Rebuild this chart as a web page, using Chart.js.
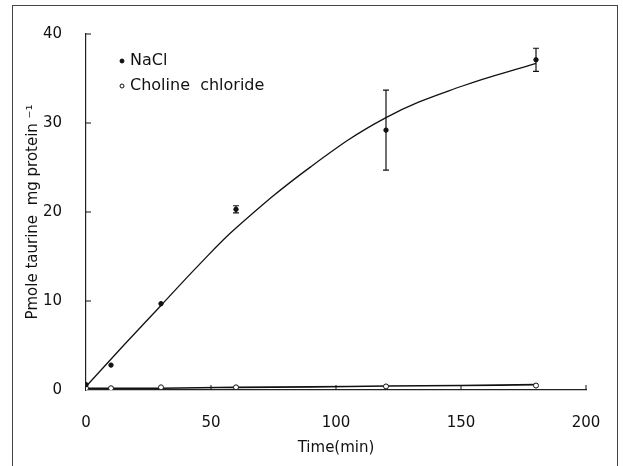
<!DOCTYPE html>
<html>
<head>
<meta charset="utf-8">
<script src="https://cdn.jsdelivr.net/npm/chart.js@4.4.0/dist/chart.umd.min.js"></script>
<style>
  body { margin: 0; background: #fff; }
  #wrap { position: relative; width: 623px; height: 466px; }
  #frame { position: absolute; left: 12px; top: 5px; width: 604px; height: 470px;
           border: 1px solid #444; border-bottom: none; pointer-events: none; }
</style>
</head>
<body>
<div id="wrap">
  <canvas id="chart" width="623" height="466"></canvas>
  <div id="frame"></div>
</div>
<script>
// measured uptake
var times = [0, 10, 30, 60, 120, 180];
var nacl = [0.6, 2.8, 9.7, 20.3, 29.2, 37.1];
var naclErr = [0, 0, 0, 0.4, 4.5, 1.3];
var choline = [0.2, 0.2, 0.3, 0.3, 0.4, 0.5];

// trend lines
var trendTimes = [0, 15, 30, 45, 60, 90, 120, 150, 180];
var naclTrend = [0.4, 5.0, 9.5, 14.0, 18.2, 25.1, 30.6, 34.1, 36.7];
var cholineTrend = [0.2, 0.2, 0.2, 0.25, 0.3, 0.35, 0.45, 0.5, 0.6];

var xTicks = [0, 50, 100, 150, 200];
var yTicks = [0, 10, 20, 30, 40];

function pts(xs, ys) {
    return xs.map(function (x, i) { return { x: x, y: ys[i] }; });
}

var font = { family: 'DejaVu Sans', size: 15 };

var errorBars = {
    id: 'errorBars',
    afterDatasetsDraw: function (chart) {
        var ctx = chart.ctx, xs = chart.scales.x, ys = chart.scales.y;
        ctx.save();
        ctx.strokeStyle = '#111';
        ctx.lineWidth = 1.2;
        times.forEach(function (t, i) {
            if (!naclErr[i]) return;
            var px = xs.getPixelForValue(t);
            var top = ys.getPixelForValue(nacl[i] + naclErr[i]);
            var bot = ys.getPixelForValue(nacl[i] - naclErr[i]);
            ctx.beginPath();
            ctx.moveTo(px, top); ctx.lineTo(px, bot);
            ctx.moveTo(px - 3, top); ctx.lineTo(px + 3, top);
            ctx.moveTo(px - 3, bot); ctx.lineTo(px + 3, bot);
            ctx.stroke();
        });
        // inward ticks
        var a = chart.chartArea;
        ctx.lineWidth = 1;
        xTicks.slice(1).forEach(function (v) {
            var px = xs.getPixelForValue(v);
            ctx.beginPath(); ctx.moveTo(px, a.bottom); ctx.lineTo(px, a.bottom - 5); ctx.stroke();
        });
        yTicks.slice(1).forEach(function (v) {
            var py = ys.getPixelForValue(v);
            ctx.beginPath(); ctx.moveTo(a.left, py); ctx.lineTo(a.left + 5, py); ctx.stroke();
        });
        ctx.restore();
    }
};

var innerLegend = {
    id: 'innerLegend',
    afterDraw: function (chart) {
        var ctx = chart.ctx;
        var items = chart.data.datasets.filter(function (d) { return !d.trend; });
        ctx.save();
        ctx.font = '16px "DejaVu Sans"';
        ctx.textBaseline = 'middle';
        ctx.fillStyle = '#111';
        items.forEach(function (d, i) {
            var y = 61 + i * 25;
            ctx.beginPath();
            ctx.arc(122, y, 2, 0, Math.PI * 2);
            ctx.fillStyle = d.pointBackgroundColor;
            ctx.strokeStyle = '#111';
            ctx.lineWidth = 1;
            ctx.fill(); ctx.stroke();
            ctx.fillStyle = '#111';
            ctx.fillText(d.label, 130, y);
        });
        ctx.restore();
    }
};

new Chart(document.getElementById('chart'), {
    type: 'scatter',
    data: {
        datasets: [{
            label: 'NaCl',
            data: pts(times, nacl),
            showLine: false,
            pointRadius: 2.2,
            pointBackgroundColor: '#111',
            pointBorderColor: '#111'
        }, {
            label: 'Choline  chloride',
            data: pts(times, choline),
            showLine: false,
            pointRadius: 2.5,
            pointBackgroundColor: '#fff',
            pointBorderColor: '#111',
            pointBorderWidth: 1
        }, {
            label: 'NaCl trend',
            trend: true,
            data: pts(trendTimes, naclTrend),
            showLine: true,
            pointRadius: 0,
            borderColor: '#111',
            borderWidth: 1.3,
            tension: 0.4
        }, {
            label: 'Choline trend',
            trend: true,
            data: pts(trendTimes, cholineTrend),
            showLine: true,
            pointRadius: 0,
            borderColor: '#111',
            borderWidth: 1.6,
            tension: 0.4
        }]
    },
    options: {
        responsive: false,
        animation: false,
        layout: { padding: { top: 34, right: 37, left: 0, bottom: 0 } },
        plugins: { legend: { display: false }, tooltip: { enabled: false } },
        scales: {
            x: {
                type: 'linear', min: 0, max: 200,
                afterBuildTicks: function (s) { s.ticks = xTicks.map(function (v) { return { value: v }; }); },
                afterFit: function (s) { s.height = 76; },
                grid: { display: false },
                border: { color: '#222', width: 1.2 },
                ticks: { font: font, color: '#111', padding: 16, maxRotation: 0 },
                title: { display: true, text: 'Time(min)', font: font, color: '#111', padding: { top: 0, bottom: 9 } }
            },
            y: {
                type: 'linear', min: 0, max: 40,
                afterBuildTicks: function (s) { s.ticks = yTicks.map(function (v) { return { value: v }; }); },
                afterFit: function (s) { s.width = 86; },
                grid: { display: false },
                border: { color: '#222', width: 1.2 },
                ticks: { font: font, color: '#111', padding: 16 },
                title: { display: true, text: 'Pmole taurine  mg protein \u207B\u00B9', font: font, color: '#111', padding: { top: 24, bottom: 0 } }
            }
        }
    },
    plugins: [errorBars, innerLegend]
});
</script>
</body>
</html>
